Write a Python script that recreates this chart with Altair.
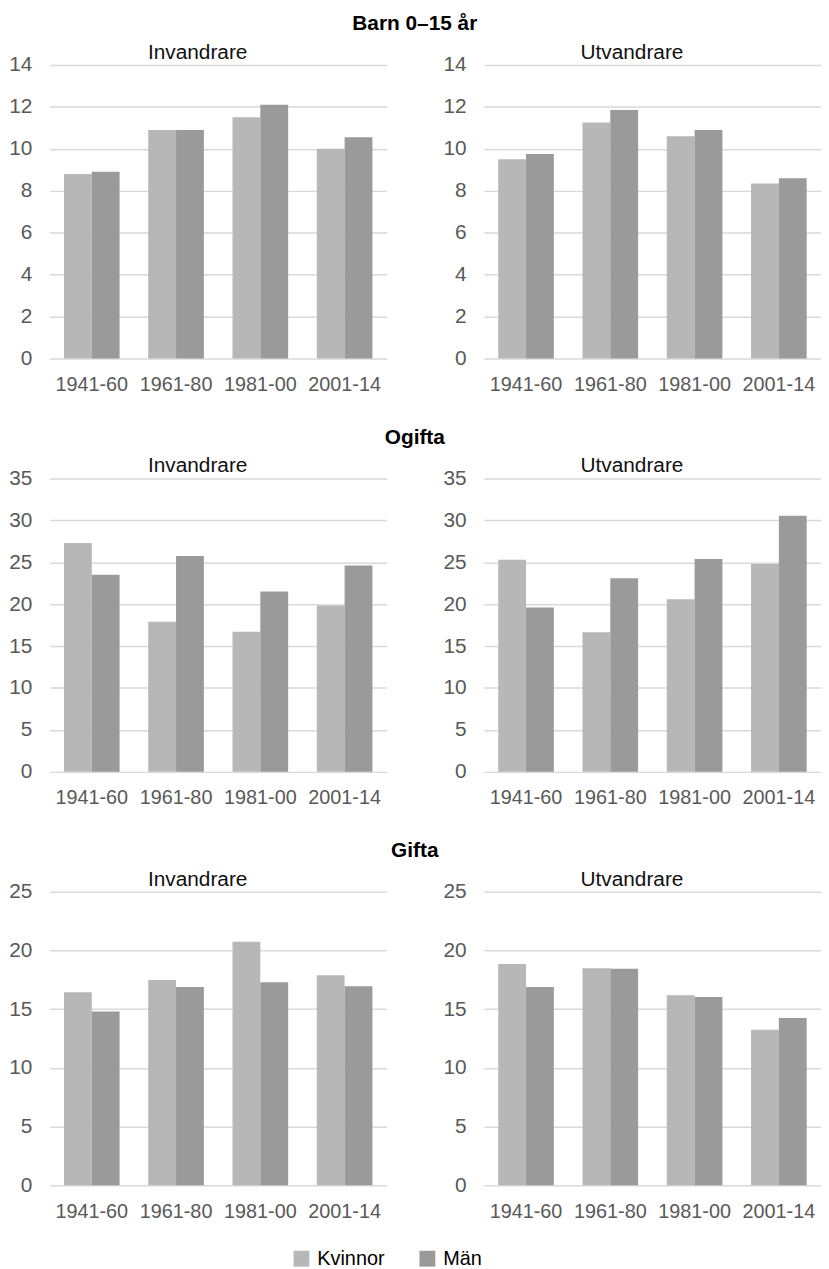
import altair as alt
import pandas as pd

periods = ["1941-60", "1961-80", "1981-00", "2001-14"]
sexes = ["Kvinnor", "Män"]
sections = ["Barn 0–15 år", "Ogifta", "Gifta"]
panels = ["Invandrare", "Utvandrare"]

barn_inv_k = [8.8, 10.9, 11.5, 10.0]
barn_inv_m = [8.9, 10.9, 12.1, 10.55]
barn_utv_k = [9.5, 11.25, 10.6, 8.35]
barn_utv_m = [9.75, 11.85, 10.9, 8.6]
ogifta_inv_k = [27.3, 17.9, 16.7, 19.85]
ogifta_inv_m = [23.5, 25.75, 21.5, 24.6]
ogifta_utv_k = [25.3, 16.65, 20.6, 24.8]
ogifta_utv_m = [19.6, 23.1, 25.4, 30.55]
gifta_inv_k = [16.45, 17.5, 20.75, 17.9]
gifta_inv_m = [14.8, 16.9, 17.3, 16.95]
gifta_utv_k = [18.85, 18.5, 16.2, 13.25]
gifta_utv_m = [16.9, 18.45, 16.05, 14.25]

barn_ticks = [0, 2, 4, 6, 8, 10, 12, 14]
ogifta_ticks = [0, 5, 10, 15, 20, 25, 30, 35]
gifta_ticks = [0, 5, 10, 15, 20, 25]

colors = ["#b7b7b7", "#9a9a9a"]
FONT = "Liberation Sans"

series = {
    ("Barn 0–15 år", "Invandrare"): (barn_inv_k, barn_inv_m),
    ("Barn 0–15 år", "Utvandrare"): (barn_utv_k, barn_utv_m),
    ("Ogifta", "Invandrare"): (ogifta_inv_k, ogifta_inv_m),
    ("Ogifta", "Utvandrare"): (ogifta_utv_k, ogifta_utv_m),
    ("Gifta", "Invandrare"): (gifta_inv_k, gifta_inv_m),
    ("Gifta", "Utvandrare"): (gifta_utv_k, gifta_utv_m),
}
ticks_for = {"Barn 0–15 år": barn_ticks, "Ogifta": ogifta_ticks, "Gifta": gifta_ticks}

rows = []
for (sec, pan), (k, m) in series.items():
    for i, p in enumerate(periods):
        rows.append({"section": sec, "panel": pan, "period": p, "sex": "Kvinnor", "value": k[i]})
        rows.append({"section": sec, "panel": pan, "period": p, "sex": "Män", "value": m[i]})
df = pd.DataFrame(rows)

legend = alt.Legend(
    title=None, orient="none", legendX=244, legendY=1194, direction="horizontal",
    symbolType="square", symbolSize=256, symbolStrokeWidth=0, labelFontSize=20,
    labelFont=FONT, labelColor="#000000", columnPadding=33, labelOffset=6,
)


def panel(sec, pan):
    ticks = ticks_for[sec]
    d = df[(df.section == sec) & (df.panel == pan)]
    return alt.Chart(d).mark_bar().encode(
        x=alt.X("period:N", sort=periods,
                scale=alt.Scale(paddingInner=0.34, paddingOuter=0.17),
                axis=alt.Axis(title=None, labelAngle=0, domain=False, ticks=False, grid=False,
                              labelPadding=16, labelFontSize=20, labelFont=FONT,
                              labelColor="#595959")),
        xOffset=alt.XOffset("sex:N", sort=sexes, scale=alt.Scale(paddingInner=0, paddingOuter=0)),
        y=alt.Y("value:Q", scale=alt.Scale(domain=[0, ticks[-1]], nice=False, zero=True),
                axis=alt.Axis(title=None, values=ticks, domain=False, ticks=False, grid=True,
                              gridColor="#d9d9d9", gridWidth=1.5, labelPadding=18,
                              labelFontSize=21, labelFont=FONT, labelColor="#595959")),
        color=alt.Color("sex:N", sort=sexes, scale=alt.Scale(domain=sexes, range=colors),
                        legend=legend),
    ).properties(
        width=340, height=296,
        title=alt.TitleParams(pan, fontSize=21, font=FONT, fontWeight="normal", color="#111111",
                              anchor="middle", frame="bounds", offset=-9),
    )


row_charts = []
for sec in sections:
    r = alt.hconcat(panel(sec, "Invandrare"), panel(sec, "Utvandrare"), spacing=56).properties(
        title=alt.TitleParams(sec, fontSize=21, font=FONT, fontWeight="bold", color="#000000",
                              anchor="middle", offset=8)
    )
    row_charts.append(r)

chart = alt.vconcat(*row_charts, spacing=33).properties(
    padding=0, background="white"
).configure_view(stroke=None)

chart.save("out.html", embed_options={"renderer": "svg", "actions": False})
